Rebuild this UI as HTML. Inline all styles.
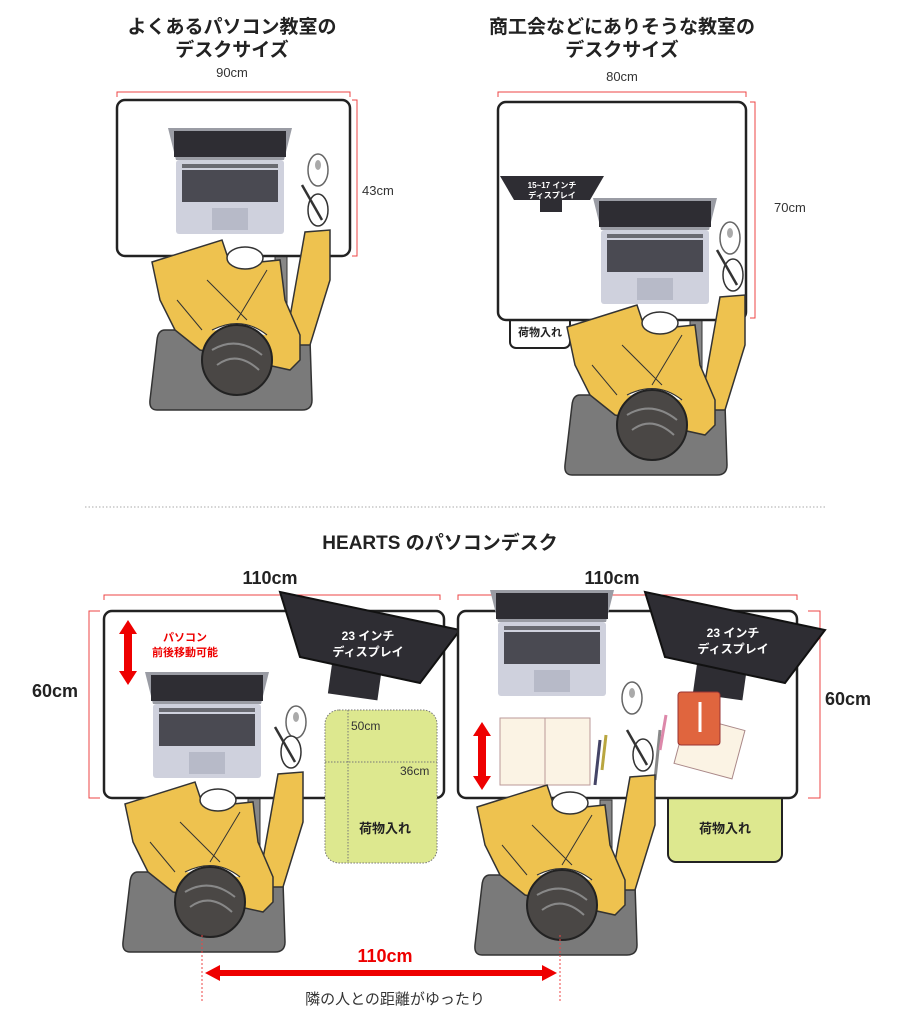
<!DOCTYPE html>
<html><head><meta charset="utf-8"><style>
html,body{margin:0;padding:0;background:#fff;}
svg{display:block;font-family:"Liberation Sans","Noto Sans CJK JP",sans-serif;}
.t{font-weight:bold;font-size:19px;fill:#222;text-anchor:middle;}
</style></head><body>
<svg width="901" height="1024" viewBox="0 0 901 1024" xmlns="http://www.w3.org/2000/svg">
<defs>
<g id="laptop">
 <path d="M0,0 H124 L116,32 H8 Z" fill="#9a9ca4"/>
 <rect x="6" y="3" width="112" height="26" fill="#2e2d33"/>
 <rect x="8" y="32" width="108" height="74" rx="3" fill="#cfd1dd"/>
 <rect x="14" y="36" width="96" height="4" fill="#6a6b72"/>
 <rect x="14" y="42" width="96" height="32" fill="#4a4a52"/>
 <rect x="44" y="80" width="36" height="22" fill="#b7bac8"/>
</g>
<g id="chair">
 <rect x="38" y="-105" width="12" height="100" fill="#888" stroke="#333"/>
 <path d="M-72,-30 H63 Q72,-30 73,-20 L75,40 Q75,50 65,50 H-80 Q-88,50 -87,40 L-80,-20 Q-79,-30 -72,-30 Z" fill="#7a7a7a" stroke="#333" stroke-width="1.5"/>
</g>
<g id="person">
 <path d="M48,-15 L68,-128 L93,-130 L93,-80 L73,-15 Z" fill="#eec24f" stroke="#333" stroke-width="1.5"/>
 <path d="M-85,-98 L-15,-120 L-9,-102 L23,-98 L43,-100 L48,-60 L63,-25 L63,0 L53,10 L-37,-10 L-62,-30 L-77,-60 Z" fill="#eec24f" stroke="#333" stroke-width="1.5"/>
 <path d="M-30,-80 L10,-40 M-60,-60 L-35,-30 M30,-90 L0,-40" stroke="#333" stroke-width="1" fill="none"/>
 <ellipse cx="8" cy="-102" rx="18" ry="11" fill="#fff" stroke="#333" stroke-width="1.5"/>
 <ellipse cx="81" cy="-150" rx="10" ry="16" fill="#fff" stroke="#333" stroke-width="1.5"/>
 <line x1="65" y1="-175" x2="85" y2="-140" stroke="#333" stroke-width="2.5"/>
 <path d="M-25,-30 Q5,-45 30,-25" fill="#fff" stroke="#333" stroke-width="1.2"/>
 <circle cx="0" cy="0" r="35" fill="#4a4745" stroke="#222" stroke-width="2"/>
 <path d="M-25,-10 Q0,-25 25,-5 M-20,5 Q0,-10 22,10" stroke="#888" stroke-width="2" fill="none"/>
</g>
<g id="mouse"><ellipse cx="0" cy="0" rx="10" ry="16" fill="#fff" stroke="#666" stroke-width="1.5"/><ellipse cx="0" cy="-5" rx="3" ry="5" fill="#aaa"/></g>
</defs>

<!-- top left -->
<text class="t" x="232" y="33">よくあるパソコン教室の</text>
<text class="t" x="232" y="56">デスクサイズ</text>
<text x="232" y="77" font-size="13" text-anchor="middle" fill="#333">90cm</text>
<path d="M117,97 V92 H350 V97" stroke="#e44" fill="none"/>
<path d="M352,100 H357 V256 H352" stroke="#e44" fill="none"/>
<text x="362" y="195" font-size="13" fill="#333">43cm</text>
<use href="#chair" x="237" y="360"/>
<rect x="117" y="100" width="233" height="156" rx="8" fill="#fff" stroke="#222" stroke-width="2.5"/>
<use href="#laptop" x="168" y="128"/>
<use href="#mouse" x="318" y="170"/>
<use href="#person" x="237" y="360"/>

<!-- top right -->
<text class="t" x="622" y="33">商工会などにありそうな教室の</text>
<text class="t" x="622" y="56">デスクサイズ</text>
<text x="622" y="81" font-size="13" text-anchor="middle" fill="#333">80cm</text>
<path d="M498,97 V92 H746 V97" stroke="#e44" fill="none"/>
<path d="M750,102 H755 V318 H750" stroke="#e44" fill="none"/>
<text x="774" y="212" font-size="13" fill="#333">70cm</text>
<use href="#chair" x="652" y="425"/>
<rect x="510" y="310" width="60" height="38" rx="6" fill="#fff" stroke="#222" stroke-width="2"/>
<text x="540" y="336" font-size="11" font-weight="bold" text-anchor="middle" fill="#222">荷物入れ</text>
<rect x="498" y="102" width="248" height="218" rx="8" fill="#fff" stroke="#222" stroke-width="2.5"/>
<path d="M500,176 H604 L590,200 H514 Z" fill="#2e2d33"/>
<rect x="540" y="200" width="22" height="12" fill="#2e2d33"/>
<text x="552" y="188" font-size="8" font-weight="bold" fill="#fff" text-anchor="middle">15~17 インチ</text>
<text x="552" y="198" font-size="8" font-weight="bold" fill="#fff" text-anchor="middle">ディスプレイ</text>
<use href="#laptop" x="593" y="198"/>
<use href="#mouse" x="730" y="238"/>
<use href="#person" x="652" y="425"/>

<line x1="85" y1="507" x2="825" y2="507" stroke="#aaa" stroke-dasharray="1.5,2"/>
<text class="t" x="440" y="549">HEARTS のパソコンデスク</text>

<!-- bottom left -->
<text x="270" y="584" font-size="18" font-weight="bold" text-anchor="middle" fill="#222">110cm</text>
<path d="M104,600 V595 H440 V600" stroke="#e44" fill="none"/>
<path d="M100,611 H89 V798 H100" stroke="#e44" fill="none"/>
<text x="55" y="697" font-size="18" font-weight="bold" text-anchor="middle" fill="#222">60cm</text>
<use href="#chair" x="210" y="902"/>
<rect x="104" y="611" width="340" height="187" rx="8" fill="#fff" stroke="#222" stroke-width="2.5"/>
<path d="M128,620 L137,634 H132 V671 H137 L128,685 L119,671 H124 V634 H119 Z" fill="#e00"/>
<text x="185" y="641" font-size="11" font-weight="bold" fill="#e00" text-anchor="middle">パソコン</text>
<text x="185" y="656" font-size="11" font-weight="bold" fill="#e00" text-anchor="middle">前後移動可能</text>
<rect x="330" y="663" width="50" height="34" fill="#2e2d33" transform="rotate(8 355 680)"/>
<polygon points="280,592 460,630 420,683 300,657" fill="#2e2d33" stroke="#111" stroke-width="2"/>
<text x="368" y="640" font-size="12" font-weight="bold" fill="#fff" text-anchor="middle">23 インチ</text>
<text x="368" y="656" font-size="12" font-weight="bold" fill="#fff" text-anchor="middle">ディスプレイ</text>
<use href="#laptop" x="145" y="672"/>
<use href="#mouse" x="296" y="722"/>
<use href="#person" x="210" y="902"/>
<rect x="325" y="710" width="112" height="153" rx="14" fill="#dde88f" stroke="#777" stroke-dasharray="1.5,1.5"/>
<line x1="325" y1="762" x2="437" y2="762" stroke="#777" stroke-dasharray="1.5,1.5"/>
<line x1="348" y1="710" x2="348" y2="863" stroke="#777" stroke-dasharray="1.5,1.5"/>
<text x="351" y="730" font-size="12" fill="#333">50cm</text>
<text x="400" y="775" font-size="12" fill="#333">36cm</text>
<text x="385" y="833" font-size="13" font-weight="bold" fill="#222" text-anchor="middle">荷物入れ</text>

<!-- bottom right -->
<text x="612" y="584" font-size="18" font-weight="bold" text-anchor="middle" fill="#222">110cm</text>
<path d="M458,600 V595 H797 V600" stroke="#e44" fill="none"/>
<path d="M808,611 H820 V798 H808" stroke="#e44" fill="none"/>
<text x="848" y="705" font-size="18" font-weight="bold" text-anchor="middle" fill="#222">60cm</text>
<use href="#chair" x="562" y="905"/>
<rect x="668" y="790" width="114" height="72" rx="8" fill="#dde88f" stroke="#222" stroke-width="2"/>
<text x="725" y="833" font-size="13" font-weight="bold" fill="#222" text-anchor="middle">荷物入れ</text>
<rect x="458" y="611" width="339" height="187" rx="8" fill="#fff" stroke="#222" stroke-width="2.5"/>
<use href="#laptop" x="490" y="590"/>
<rect x="695" y="663" width="50" height="34" fill="#2e2d33" transform="rotate(8 720 680)"/>
<polygon points="645,592 825,630 785,683 665,657" fill="#2e2d33" stroke="#111" stroke-width="2"/>
<text x="733" y="637" font-size="12" font-weight="bold" fill="#fff" text-anchor="middle">23 インチ</text>
<text x="733" y="653" font-size="12" font-weight="bold" fill="#fff" text-anchor="middle">ディスプレイ</text>
<use href="#mouse" x="632" y="698"/>
<path d="M482,722 L491,736 H486 V776 H491 L482,790 L473,776 H478 V736 H473 Z" fill="#e00"/>
<rect x="500" y="718" width="90" height="67" fill="#fbf3e4" stroke="#b99" />
<line x1="545" y1="718" x2="545" y2="785" stroke="#b99"/>
<g transform="rotate(15 710 745)"><rect x="680" y="722" width="60" height="50" fill="#fbf3e4" stroke="#a88"/></g>
<rect x="678" y="692" width="42" height="53" rx="3" fill="#e0653e" stroke="#933"/>
<line x1="700" y1="702" x2="700" y2="732" stroke="#fff" stroke-width="3"/>
<line x1="600" y1="740" x2="595" y2="785" stroke="#446" stroke-width="3"/>
<line x1="606" y1="735" x2="602" y2="770" stroke="#b9a640" stroke-width="3"/>
<line x1="660" y1="730" x2="655" y2="780" stroke="#888" stroke-width="3"/>
<line x1="666" y1="715" x2="660" y2="750" stroke="#d8a" stroke-width="3"/>
<use href="#person" x="562" y="905"/>

<!-- bottom measure -->
<line x1="202" y1="935" x2="202" y2="1003" stroke="#e44" stroke-dasharray="2,2"/>
<line x1="560" y1="935" x2="560" y2="1003" stroke="#e44" stroke-dasharray="2,2"/>
<path d="M205,973 L220,965 V970 H542 V965 L557,973 L542,981 V976 H220 V981 Z" fill="#e00"/>
<text x="385" y="962" font-size="18" font-weight="bold" fill="#e00" text-anchor="middle">110cm</text>
<text x="395" y="1004" font-size="15" fill="#333" text-anchor="middle">隣の人との距離がゆったり</text>
</svg>
</body></html>
